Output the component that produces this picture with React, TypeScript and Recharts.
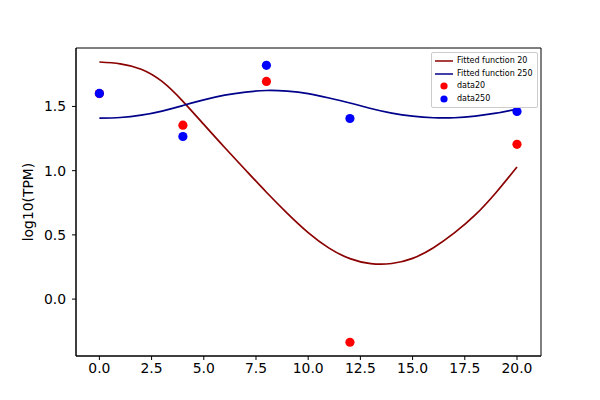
import React from "react";
import {
  ComposedChart,
  Line,
  Scatter,
  XAxis,
  YAxis,
  ReferenceArea,
} from "recharts";

// time grid for the fitted curves
const FIT_T = [0, 1, 2, 3, 4, 5, 6, 7, 8, 9, 10, 11, 12, 13, 14, 15, 16, 17, 18, 19, 20];
const FIT_20 = [
  1.846, 1.832, 1.79, 1.695, 1.54, 1.36, 1.18, 1.005, 0.832, 0.668, 0.518,
  0.397, 0.315, 0.276, 0.277, 0.317, 0.4, 0.515, 0.655, 0.83, 1.028,
];
const FIT_250 = [
  1.409, 1.414, 1.432, 1.464, 1.507, 1.551, 1.588, 1.612, 1.624, 1.619, 1.6,
  1.566, 1.527, 1.484, 1.448, 1.424, 1.412, 1.412, 1.425, 1.448, 1.479,
];

// measured points
const SAMPLE_T = [0, 4, 8, 12, 20];
const DATA_20 = [1.6, 1.354, 1.695, -0.336, 1.205];
const DATA_250 = [1.601, 1.266, 1.82, 1.406, 1.461];

const X_TICKS = [0, 2.5, 5, 7.5, 10, 12.5, 15, 17.5, 20];
const Y_TICKS = [0, 0.5, 1, 1.5];

const X_DOMAIN: [number, number] = [-1.12, 21.15];
const Y_DOMAIN: [number, number] = [-0.443, 1.955];

const LEGEND_ITEMS = [
  { label: "Fitted function 20", color: "#8b0000", kind: "line" },
  { label: "Fitted function 250", color: "#00008b", kind: "line" },
  { label: "data20", color: "#ff0000", kind: "dot" },
  { label: "data250", color: "#0000ff", kind: "dot" },
];

const fit20 = FIT_T.map((t, i) => ({ t, y: FIT_20[i] }));
const fit250 = FIT_T.map((t, i) => ({ t, y: FIT_250[i] }));
const pts20 = SAMPLE_T.map((t, i) => ({ t, y: DATA_20[i] }));
const pts250 = SAMPLE_T.map((t, i) => ({ t, y: DATA_250[i] }));

const FONT = "'DejaVu Sans', sans-serif";

function Dot(props: any) {
  const { cx, cy, fill } = props;
  return <circle cx={cx} cy={cy} r={4.6} fill={fill} />;
}

function LegendBox() {
  return (
    <div
      style={{
        position: "absolute",
        left: 431,
        top: 52,
        background: "rgba(255,255,255,0.8)",
        border: "1px solid #cccccc",
        borderRadius: 2,
        padding: "2px 4px 2px 2px",
        fontFamily: FONT,
        fontSize: 8,
        lineHeight: "12.5px",
        color: "#000",
      }}
    >
      {LEGEND_ITEMS.map((it) => (
        <div key={it.label} style={{ display: "flex", alignItems: "center" }}>
          <svg width={23} height={12} style={{ flex: "none" }}>
            {it.kind === "line" ? (
              <line x1={1} x2={19} y1={6} y2={6} stroke={it.color} strokeWidth={1.5} />
            ) : (
              <circle cx={10} cy={6} r={3.6} fill={it.color} />
            )}
          </svg>
          <span>{it.label}</span>
        </div>
      ))}
    </div>
  );
}

export default function App() {
  return (
    <div style={{ position: "absolute", left: 0, top: 0, width: 600, height: 400, background: "#fff" }}>
      <ComposedChart
        width={600}
        height={400}
        margin={{ top: 48, right: 59, bottom: 0, left: 0 }}
      >
        <XAxis
          dataKey="t"
          type="number"
          domain={X_DOMAIN}
          ticks={X_TICKS}
          allowDataOverflow
          height={44}
          tickSize={4}
          tickMargin={3}
          tickFormatter={(v: number) => v.toFixed(1)}
          axisLine={{ stroke: "#000" }}
          tickLine={{ stroke: "#000" }}
          tick={{ fill: "#000", fontSize: 13.9, fontFamily: FONT }}
        />
        <YAxis
          dataKey="y"
          type="number"
          domain={Y_DOMAIN}
          ticks={Y_TICKS}
          allowDataOverflow
          width={76}
          tickSize={4}
          tickMargin={6}
          tickFormatter={(v: number) => v.toFixed(1)}
          axisLine={{ stroke: "#000" }}
          tickLine={{ stroke: "#000" }}
          tick={{ fill: "#000", fontSize: 13.9, fontFamily: FONT }}
          label={{
            value: "log10(TPM)",
            angle: -90,
            position: "insideLeft",
            offset: 28,
            style: { fill: "#000", fontSize: 13.9, fontFamily: FONT, textAnchor: "middle" },
          }}
        />
        <ReferenceArea
          x1={X_DOMAIN[0]}
          x2={X_DOMAIN[1]}
          y1={Y_DOMAIN[0]}
          y2={Y_DOMAIN[1]}
          fill="none"
          stroke="#000"
          strokeWidth={1}
          fillOpacity={0}
        />
        <Line
          data={fit20}
          dataKey="y"
          type="natural"
          stroke="#8b0000"
          strokeWidth={1.7}
          dot={false}
          activeDot={false}
          isAnimationActive={false}
          name="Fitted function 20"
        />
        <Line
          data={fit250}
          dataKey="y"
          type="natural"
          stroke="#00008b"
          strokeWidth={1.7}
          dot={false}
          activeDot={false}
          isAnimationActive={false}
          name="Fitted function 250"
        />
        <Scatter
          data={pts20}
          dataKey="y"
          fill="#ff0000"
          shape={<Dot />}
          isAnimationActive={false}
          name="data20"
        />
        <Scatter
          data={pts250}
          dataKey="y"
          fill="#0000ff"
          shape={<Dot />}
          isAnimationActive={false}
          name="data250"
        />
      </ComposedChart>
      <LegendBox />
    </div>
  );
}
